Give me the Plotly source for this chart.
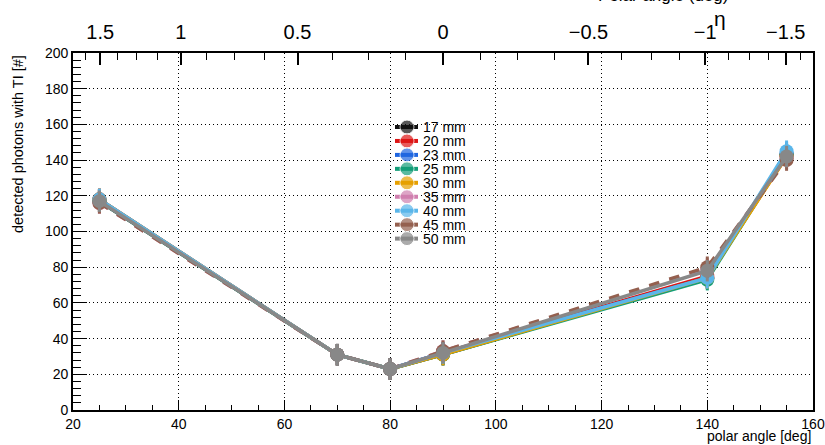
import math
import plotly.graph_objects as go

# ---------------- data ----------------
angles = [25, 70, 80, 90, 140, 155]
labels = ["17 mm", "20 mm", "23 mm", "25 mm", "30 mm", "35 mm", "40 mm", "45 mm", "50 mm"]
v17 = [117, 31, 23, 31, 74, 143]
v20 = [118, 31, 23, 32, 75, 142]
v23 = [118, 31, 23, 32, 74, 144]
v25 = [117, 31, 23, 31, 73, 143]
v30 = [118, 31, 23, 31, 74, 142]
v35 = [116, 31, 23, 33, 79, 141]
v40 = [118, 31, 23, 32, 74, 145]
v45 = [116, 31, 23, 33, 80, 140]
v50 = [117, 31, 23, 32, 78, 142]
errs = [6, 6, 6, 6, 6, 6]
values = [v17, v20, v23, v25, v30, v35, v40, v45, v50]

colors = ["#111111", "#dd1515", "#1f66e0", "#139e78", "#e6a000",
          "#d07faf", "#5ab6ea", "#94604f", "#888888"]
dashes = ["solid", "solid", "solid", "solid", "solid", "dash", "solid", "dash", "solid"]

eta_major = [1.5, 1, 0.5, 0, -0.5, -1, -1.5]
eta_text = ["1.5", "1", "0.5", "0", "\u22120.5", "\u22121", "\u22121.5"]

# ---------------- layout geometry (pixels) ----------------
W, H = 825, 445
L, R, T, B = 73, 12, 53, 35
PW, PH = W - L - R, H - T - B


def px_x(p):
    return (p - L) / PW


def px_y(p):
    return (H - B - p) / PH


def eta_to_theta(e):
    return math.degrees(2 * math.atan(math.exp(-e)))


major_pos = [eta_to_theta(e) for e in eta_major]
minor_pos = []
k = -14
while k <= 14:
    e = k * 0.125
    th = eta_to_theta(e)
    if 20 <= th <= 160 and (k % 4 != 0):
        minor_pos.append(th)
    k += 1

fig = go.Figure()

for name, vals, col, dsh in zip(labels, values, colors, dashes):
    fig.add_trace(go.Scatter(
        x=angles, y=vals, mode="lines+markers", name=name,
        line=dict(color=col, width=3.5, dash=dsh),
        marker=dict(color=col, size=14),
        error_y=dict(type="data", array=errs, color=col, thickness=3, width=0),
        showlegend=False,
    ))

# dummy traces for the top axes
fig.add_trace(go.Scatter(x=[None], y=[None], xaxis="x2", yaxis="y", showlegend=False, hoverinfo="skip"))
fig.add_trace(go.Scatter(x=[None], y=[None], xaxis="x3", yaxis="y", showlegend=False, hoverinfo="skip"))

# ---------------- hand-made legend ----------------
leg_x_marker = 407
leg_x0, leg_x1 = 395, 418
leg_text_x = 421
leg_y0, leg_dy = 127, 13.95
for i, (name, col) in enumerate(zip(labels, colors)):
    yy = px_y(leg_y0 + i * leg_dy)
    fig.add_trace(go.Scatter(
        x=[px_x(leg_x0), px_x(leg_x_marker), px_x(leg_x1)], y=[yy, yy, yy],
        xaxis="x4", yaxis="y4", mode="lines+markers",
        line=dict(color=col, width=4),
        marker=dict(color=col, size=[0, 14, 0]),
        showlegend=False, hoverinfo="skip",
    ))
    fig.add_annotation(x=px_x(leg_text_x), y=yy, xref="paper", yref="paper",
                       text=name, showarrow=False, xanchor="left", yanchor="middle",
                       font=dict(size=14, color="#000000"))

fig.add_shape(type="rect", xref="paper", yref="paper",
              x0=px_x(393), x1=px_x(496), y0=px_y(247), y1=px_y(117),
              fillcolor="white", line=dict(width=0), layer="between")

font_family = "Liberation Sans, Arial, Helvetica, sans-serif"
GRID_DASH = "1px,3px"

fig.update_layout(
    width=W, height=H,
    margin=dict(l=L, r=R, t=T, b=B, pad=0, autoexpand=False),
    paper_bgcolor="white", plot_bgcolor="white",
    font=dict(family=font_family, color="#000000"),
    showlegend=False,
    xaxis=dict(
        range=[20, 160], tickmode="array", tickvals=[20, 40, 60, 80, 100, 120, 140, 160],
        ticks="inside", ticklen=10, tickwidth=1.3, tickcolor="#000000",
        minor=dict(dtick=5, tick0=20, ticks="inside", ticklen=5, tickwidth=1.2, tickcolor="#000000"),
        showgrid=True, gridcolor="#000000", griddash=GRID_DASH, gridwidth=1,
        showline=True, linecolor="#000000", linewidth=1.8, mirror=False,
        tickfont=dict(size=14), zeroline=False, automargin=False,
    ),
    yaxis=dict(
        range=[0, 200], tickmode="array", tickvals=[0, 20, 40, 60, 80, 100, 120, 140, 160, 180, 200],
        ticks="inside", ticklen=14, tickwidth=1.3, tickcolor="#000000",
        minor=dict(dtick=4, tick0=0, ticks="inside", ticklen=8, tickwidth=1.2, tickcolor="#000000"),
        showgrid=True, gridcolor="#000000", griddash=GRID_DASH, gridwidth=1,
        showline=True, linecolor="#000000", linewidth=1.8, mirror=True,
        tickfont=dict(size=14), zeroline=False, automargin=False,
    ),
    xaxis2=dict(
        overlaying="x", side="top", anchor="y", range=[20, 160],
        tickmode="array", tickvals=major_pos, ticktext=eta_text,
        ticks="inside", ticklen=12, tickwidth=1.5, tickcolor="#000000",
        showgrid=False, showline=True, linecolor="#000000", linewidth=1.8,
        tickfont=dict(size=20), zeroline=False, ticklabelstandoff=4, automargin=False,
    ),
    xaxis3=dict(
        overlaying="x", side="top", anchor="y", range=[20, 160],
        tickmode="array", tickvals=minor_pos, ticks="inside", ticklen=7,
        tickwidth=1.2, tickcolor="#000000", showticklabels=False,
        showgrid=False, showline=False, zeroline=False, automargin=False,
    ),
    xaxis4=dict(overlaying="x", range=[0, 1], visible=False, fixedrange=True, automargin=False),
    yaxis4=dict(overlaying="y", range=[0, 1], visible=False, fixedrange=True, automargin=False),
)

# axis titles
fig.add_annotation(x=px_x(18), y=1.0, xref="paper", yref="paper",
                   text="detected photons with TI [#]", textangle=-90, showarrow=False,
                   xanchor="center", yanchor="top", font=dict(size=14.5))
fig.add_annotation(x=1.0, y=px_y(436), xref="paper", yref="paper",
                   text="polar angle [deg]", showarrow=False,
                   xanchor="right", yanchor="middle", font=dict(size=14))
fig.add_annotation(x=px_x(663), y=px_y(7.5), xref="paper", yref="paper",
                   text="Polar angle (deg)", showarrow=False,
                   xanchor="center", yanchor="bottom", font=dict(size=17))
fig.add_annotation(x=px_x(720), y=px_y(19), xref="paper", yref="paper",
                   text="\u03b7", showarrow=False,
                   xanchor="center", yanchor="middle", font=dict(size=21))

# remove the default page margin so the figure sits at the window's top-left corner
fig.write_html("out.html", config={"displayModeBar": False},
               post_script="document.body.style.margin='0';")
